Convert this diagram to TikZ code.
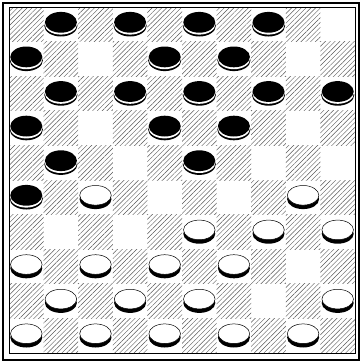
\documentclass[tikz,border=0pt]{standalone}
\usetikzlibrary{patterns.meta}

\tikzset{
  hatched/.style={pattern={Lines[angle=45,distance=3.4pt,line width=0.45pt]},pattern color=black!65},
  pics/blackman/.style={code={
    \fill (0,3.4) ellipse [x radius=16.6pt,y radius=10.8pt];
    \fill[white] (0,1.9) ellipse [x radius=16.2pt,y radius=10.4pt];
    \fill (0,0) ellipse [x radius=16pt,y radius=10.4pt];
  }},
  pics/whiteman/.style={code={
    \fill (0,3.8) ellipse [x radius=16pt,y radius=10pt];
    \filldraw[fill=white,line width=0.5pt] (0,0) ellipse [x radius=15.8pt,y radius=9.8pt];
  }}
}

\begin{document}
\begin{tikzpicture}[x=1pt,y=-1pt]
  \useasboundingbox[fill=white] (0,0) rectangle (361,362);
  \def\sq{34.6}
  % dark squares
  \foreach \r in {0,...,9}
    \foreach \c in {0,2,...,8}{
      \pgfmathtruncatemacro\cc{\c+mod(\r,2)}
      \fill[hatched] (9+\sq*\cc,7+\sq*\r) rectangle ++(\sq,\sq);
    }
  % frame
  \draw[line width=0.6pt] (9,7) rectangle (355,353);
  \draw[line width=2pt] (3,3) rectangle (359,359.5);
  % black men (column/row)
  \foreach \c/\r in {1/0,3/0,5/0,7/0,0/1,4/1,6/1,1/2,3/2,5/2,7/2,9/2,0/3,4/3,6/3,1/4,5/4,0/5}
    \pic at (9+\sq*\c+\sq/2,7+\sq*\r+\sq/2-2) {blackman};
  % white men
  \foreach \c/\r in {2/5,8/5,5/6,7/6,9/6,0/7,2/7,4/7,6/7,1/8,3/8,5/8,9/8,0/9,2/9,4/9,6/9,8/9}
    \pic at (9+\sq*\c+\sq/2,7+\sq*\r+\sq/2-2) {whiteman};
\end{tikzpicture}
\end{document}
